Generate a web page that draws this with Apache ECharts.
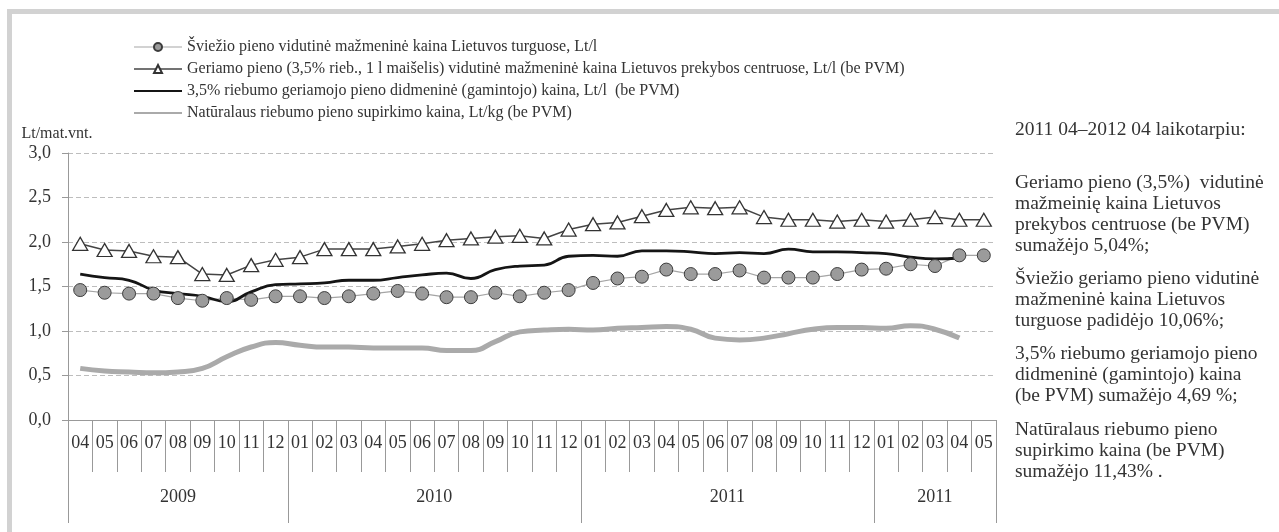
<!DOCTYPE html>
<html>
<head>
<meta charset="utf-8">
<script src="https://cdn.jsdelivr.net/npm/echarts@6/dist/echarts.min.js"></script>
<style>
  html, body { margin: 0; padding: 0; background: #fff; }
  .chart-container { position: relative; width: 1279px; height: 532px; }
  #chart { width: 1279px; height: 532px; }
  .frame {
    position: absolute; left: 7px; top: 9px; right: 0; bottom: 0;
    border-top: 5px solid #d2d2d2; border-left: 5px solid #d2d2d2;
    pointer-events: none;
  }
</style>
</head>
<body>
<div class="chart-container">
  <div id="chart"></div>
  <div class="frame"></div>
</div>
<script>
// months 2009 04 .. 2012 05 (last year is labelled 2011 in the source)
const months = ["04", "05", "06", "07", "08", "09", "10", "11", "12",
  "01", "02", "03", "04", "05", "06", "07", "08", "09", "10", "11", "12",
  "01", "02", "03", "04", "05", "06", "07", "08", "09", "10", "11", "12",
  "01", "02", "03", "04", "05"];
const yearLabels = ["2009", "2010", "2011", "2011"];
const yearBreaks = [0, 9, 21, 33, 38];

const sviezioTurguose = [1.46, 1.43, 1.42, 1.42, 1.37, 1.34, 1.37, 1.35, 1.39,
  1.39, 1.37, 1.39, 1.42, 1.45, 1.42, 1.38, 1.38, 1.43, 1.39, 1.43, 1.46,
  1.54, 1.59, 1.61, 1.69, 1.64, 1.64, 1.68, 1.60, 1.60, 1.60, 1.64, 1.69,
  1.70, 1.75, 1.73, 1.85, 1.85];
const geriamoPrekybos = [1.98, 1.91, 1.90, 1.84, 1.83, 1.64, 1.63, 1.74, 1.80,
  1.83, 1.92, 1.92, 1.92, 1.95, 1.98, 2.02, 2.04, 2.06, 2.07, 2.04, 2.14,
  2.20, 2.22, 2.29, 2.36, 2.39, 2.38, 2.39, 2.28, 2.25, 2.25, 2.23, 2.25,
  2.23, 2.25, 2.28, 2.25, 2.25];
const didmenine = [1.64, 1.60, 1.57, 1.46, 1.42, 1.39, 1.33, 1.44, 1.52,
  1.53, 1.54, 1.57, 1.57, 1.60, 1.63, 1.65, 1.59, 1.69, 1.73, 1.74, 1.84,
  1.85, 1.84, 1.90, 1.90, 1.89, 1.87, 1.88, 1.87, 1.92, 1.89, 1.89, 1.88,
  1.87, 1.83, 1.81, 1.82];
const supirkimo = [0.58, 0.55, 0.54, 0.53, 0.54, 0.58, 0.71, 0.82, 0.87,
  0.84, 0.82, 0.82, 0.81, 0.81, 0.81, 0.78, 0.78, 0.88, 0.99, 1.01, 1.02,
  1.01, 1.03, 1.04, 1.05, 1.02, 0.92, 0.90, 0.92, 0.97, 1.02, 1.04, 1.04,
  1.03, 1.06, 1.02, 0.92];

const seriesNames = [
  "Šviežio pieno vidutinė mažmeninė kaina Lietuvos turguose, Lt/l",
  "Geriamo pieno (3,5% rieb., 1 l maišelis) vidutinė mažmeninė kaina Lietuvos prekybos centruose, Lt/l (be PVM)",
  "3,5% riebumo geriamojo pieno didmeninė (gamintojo) kaina, Lt/l  (be PVM)",
  "Natūralaus riebumo pieno supirkimo kaina, Lt/kg (be PVM)"
];

const notes = [
  ["2011 04–2012 04 laikotarpiu:"],
  ["Geriamo pieno (3,5%)  vidutinė", "mažmeinię kaina Lietuvos", "prekybos centruose (be PVM)", "sumažėjo 5,04%;"],
  ["Šviežio geriamo pieno vidutinė", "mažmeninė kaina Lietuvos", "turguose padidėjo 10,06%;"],
  ["3,5% riebumo geriamojo pieno", "didmeninė (gamintojo) kaina", "(be PVM) sumažėjo 4,69 %;"],
  ["Natūralaus riebumo pieno", "supirkimo kaina (be PVM)", "sumažėjo 11,43% ."]
];
const notesTop = [119, 172, 268, 343, 419];

const FONT = "'Liberation Serif', 'Times New Roman', serif";
const TXT = "#333";

var chart = echarts.init(document.getElementById("chart"));

var yearMid = [];
for (var i = 0; i < yearLabels.length; i++) {
  yearMid.push((yearBreaks[i] + yearBreaks[i + 1]) / 2);
}

var graphics = notes.map(function (lines, k) {
  return {
    type: "text",
    left: 1015,
    top: notesTop[k],
    style: {
      text: lines.join("\n"),
      font: "19.5px " + FONT,
      fill: TXT,
      lineHeight: 21
    }
  };
});

chart.setOption({
  animation: false,
  textStyle: { fontFamily: FONT, color: TXT },
  legend: {
    orient: "vertical",
    left: 128,
    top: 31,
    itemWidth: 48,
    itemHeight: 10,
    itemGap: 0,
    selectedMode: false,
    textStyle: { fontFamily: FONT, fontSize: 16, color: TXT, lineHeight: 22 },
    data: [
      { name: seriesNames[0], lineStyle: { width: 1.2 } },
      { name: seriesNames[1], lineStyle: { width: 1.5 } },
      { name: seriesNames[2], lineStyle: { width: 2 }, itemStyle: { opacity: 0 } },
      { name: seriesNames[3], lineStyle: { width: 2 }, itemStyle: { opacity: 0 } }
    ]
  },
  grid: { left: 68, right: 283, top: 153, bottom: 112 },
  graphic: graphics,
  xAxis: [
    {
      type: "category",
      data: months,
      boundaryGap: true,
      axisLine: { show: true, lineStyle: { color: "#999" } },
      axisTick: { show: true, interval: 0, alignWithLabel: false, length: 52, lineStyle: { color: "#999" } },
      axisLabel: { interval: 0, margin: 14, fontSize: 18, color: TXT, fontFamily: FONT }
    },
    {
      type: "value",
      min: 0,
      max: 38,
      position: "bottom",
      axisLine: { show: false },
      splitLine: { show: false },
      axisTick: { show: true, customValues: yearBreaks, length: 103, lineStyle: { color: "#999" } },
      axisLabel: {
        customValues: yearMid,
        margin: 68,
        fontSize: 18,
        color: TXT,
        fontFamily: FONT,
        formatter: function (v) {
          return yearLabels[yearMid.indexOf(v)];
        }
      }
    }
  ],
  yAxis: {
    type: "value",
    min: 0,
    max: 3,
    interval: 0.5,
    name: "Lt/mat.vnt.",
    nameLocation: "end",
    nameGap: 11,
    nameTextStyle: { fontSize: 16, color: TXT, fontFamily: FONT, padding: [0, 22, 0, 0] },
    axisLine: { show: true, lineStyle: { color: "#999" } },
    axisTick: { show: true, length: 6, lineStyle: { color: "#999" } },
    axisLabel: {
      margin: 17,
      fontSize: 18,
      color: TXT,
      fontFamily: FONT,
      formatter: function (v) {
        return v.toFixed(1).replace(".", ",");
      }
    },
    splitLine: { lineStyle: { color: "#bdbdbd", type: [5, 3] } }
  },
  series: [
    {
      name: seriesNames[0],
      type: "line",
      data: sviezioTurguose,
      symbol: "circle",
      symbolSize: 13,
      itemStyle: { color: "#9b9b9b", borderColor: "#3c3c3c", borderWidth: 1 },
      lineStyle: { color: "#a5a5a5", width: 1.2 }
    },
    {
      name: seriesNames[1],
      type: "line",
      data: geriamoPrekybos,
      symbol: "triangle",
      symbolSize: [15, 13],
      itemStyle: { color: "#fff", borderColor: "#333", borderWidth: 1.3 },
      lineStyle: { color: "#444", width: 1.5 }
    },
    {
      name: seriesNames[2],
      type: "line",
      data: didmenine,
      symbol: "none",
      smooth: true,
      itemStyle: { color: "#151515" },
      lineStyle: { color: "#151515", width: 2.8 }
    },
    {
      name: seriesNames[3],
      type: "line",
      data: supirkimo,
      symbol: "none",
      smooth: true,
      itemStyle: { color: "#aaa" },
      lineStyle: { color: "#aaa", width: 5 }
    }
  ]
});
</script>
</body>
</html>
